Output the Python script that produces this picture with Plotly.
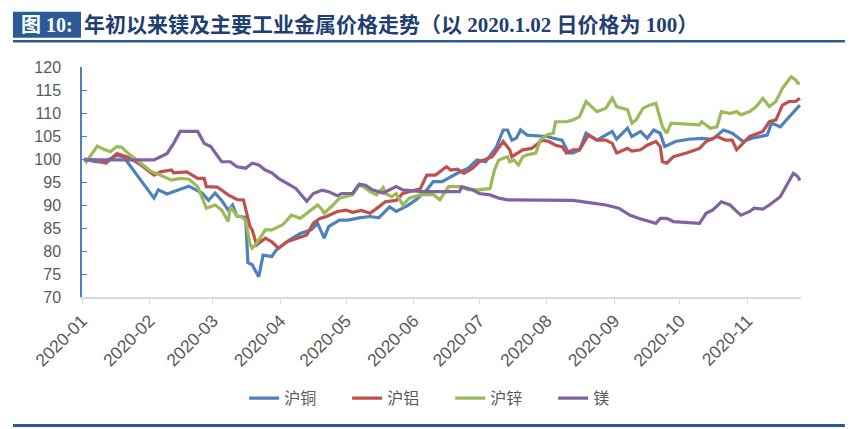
import plotly.graph_objects as go

# 沪铜
cu_dates = ["2020-01-02", "2020-01-07", "2020-01-11", "2020-01-17", "2020-01-20", "2020-02-03", "2020-02-05",
            "2020-02-09", "2020-02-15", "2020-02-19", "2020-02-25", "2020-02-28", "2020-03-02", "2020-03-05",
            "2020-03-08", "2020-03-10", "2020-03-12", "2020-03-15", "2020-03-16", "2020-03-17", "2020-03-19",
            "2020-03-22", "2020-03-24", "2020-03-28", "2020-03-30", "2020-04-05", "2020-04-10", "2020-04-15",
            "2020-04-18", "2020-04-21", "2020-04-23", "2020-04-28", "2020-05-02", "2020-05-07", "2020-05-12",
            "2020-05-16", "2020-05-21", "2020-05-24", "2020-05-29", "2020-06-02", "2020-06-07", "2020-06-10",
            "2020-06-14", "2020-06-21", "2020-06-26", "2020-06-30", "2020-07-04", "2020-07-09", "2020-07-12",
            "2020-07-14", "2020-07-16", "2020-07-18", "2020-07-20", "2020-07-23", "2020-07-29", "2020-08-01",
            "2020-08-04", "2020-08-08", "2020-08-11", "2020-08-13", "2020-08-16", "2020-08-19", "2020-08-24",
            "2020-08-28", "2020-08-31", "2020-09-02", "2020-09-07", "2020-09-09", "2020-09-13", "2020-09-16",
            "2020-09-19", "2020-09-22", "2020-09-24", "2020-09-29", "2020-10-05", "2020-10-11", "2020-10-16",
            "2020-10-21", "2020-10-25", "2020-10-30", "2020-11-03", "2020-11-10", "2020-11-12", "2020-11-16",
            "2020-11-20", "2020-11-25"]
cu_values = [100, 99.4, 99.3, 100.8, 100.5, 91.5, 93.3,
             92.4, 93.4, 94.1, 92.6, 91.0, 92.6, 91.0,
             88.9, 90.0, 87.6, 87.5, 87.3, 77.5, 77.0,
             74.4, 79.1, 78.8, 80.2, 82.4, 83.8, 84.6,
             86.0, 82.8, 85.3, 86.7, 86.7, 87.2, 87.5,
             87.2, 89.6, 88.6, 89.8, 91.1, 93.3, 95.1,
             95.1, 96.9, 98.0, 99.8, 99.4, 102.7, 106.3,
             106.3, 104.1, 104.5, 106.3, 105.2, 105.0, 104.9,
             104.5, 104.1, 101.3, 101.3, 102.0, 105.6, 104.1,
             105.2, 106.0, 104.3, 106.7, 104.9, 106.0, 104.5,
             106.3, 105.6, 102.7, 103.8, 104.3, 104.5, 104.3,
             106.3, 105.6, 103.8, 104.5, 105.2, 107.8, 107.0,
             109.2, 111.7]

# 沪铝
al_dates = ["2020-01-02", "2020-01-07", "2020-01-12", "2020-01-15", "2020-01-17", "2020-01-22", "2020-01-28",
            "2020-02-03", "2020-02-06", "2020-02-11", "2020-02-12", "2020-02-18", "2020-02-23", "2020-02-26",
            "2020-02-27", "2020-03-03", "2020-03-08", "2020-03-12", "2020-03-15", "2020-03-18", "2020-03-19",
            "2020-03-21", "2020-03-25", "2020-03-28", "2020-03-31", "2020-04-04", "2020-04-09", "2020-04-13",
            "2020-04-16", "2020-04-19", "2020-04-22", "2020-04-27", "2020-05-01", "2020-05-04", "2020-05-08",
            "2020-05-12", "2020-05-16", "2020-05-19", "2020-05-24", "2020-05-27", "2020-05-30", "2020-06-04",
            "2020-06-07", "2020-06-11", "2020-06-16", "2020-06-18", "2020-06-21", "2020-06-24", "2020-06-28",
            "2020-07-01", "2020-07-07", "2020-07-12", "2020-07-15", "2020-07-16", "2020-07-21", "2020-07-25",
            "2020-07-30", "2020-08-02", "2020-08-05", "2020-08-08", "2020-08-10", "2020-08-13", "2020-08-16",
            "2020-08-20", "2020-08-24", "2020-08-28", "2020-08-31", "2020-09-02", "2020-09-07", "2020-09-09",
            "2020-09-13", "2020-09-16", "2020-09-20", "2020-09-22", "2020-09-23", "2020-09-25", "2020-09-28",
            "2020-10-04", "2020-10-10", "2020-10-13", "2020-10-18", "2020-10-22", "2020-10-25", "2020-10-27",
            "2020-11-02", "2020-11-08", "2020-11-11", "2020-11-14", "2020-11-17", "2020-11-20", "2020-11-23",
            "2020-11-25"]
al_values = [100, 99.8, 99.1, 100.5, 101.2, 100.4, 98.7,
             96.5, 97.2, 97.6, 97.0, 97.2, 95.8, 95.8,
             94.0, 93.9, 92.2, 91.2, 91.1, 85.3, 84.6,
             81.3, 82.8, 82.0, 80.6, 82.0, 82.8, 83.5,
             86.0, 87.1, 87.5, 88.6, 88.9, 88.4, 88.8,
             88.2, 89.6, 90.7, 91.0, 92.5, 92.9, 93.5,
             96.5, 96.5, 98.3, 97.6, 97.8, 96.9, 98.0,
             99.4, 100.5, 103.8, 102.0, 100.5, 102.0, 102.3,
             104.1, 103.8, 103.0, 102.7, 101.3, 102.0, 102.0,
             105.2, 104.1, 104.1, 103.4, 101.3, 102.3, 101.7,
             102.0, 103.0, 103.8, 102.7, 99.4, 99.1, 100.5,
             101.3, 102.3, 103.8, 104.9, 104.1, 104.1, 102.0,
             104.9, 106.0, 108.1, 108.5, 111.7, 112.5, 112.5,
             113.2]

# 沪锌
zn_dates = ["2020-01-02", "2020-01-03", "2020-01-08", "2020-01-11", "2020-01-14", "2020-01-17", "2020-01-19",
            "2020-01-23", "2020-01-28", "2020-02-02", "2020-02-05", "2020-02-11", "2020-02-15", "2020-02-19",
            "2020-02-23", "2020-02-25", "2020-02-27", "2020-03-02", "2020-03-05", "2020-03-08", "2020-03-09",
            "2020-03-12", "2020-03-14", "2020-03-16", "2020-03-18", "2020-03-19", "2020-03-21", "2020-03-25",
            "2020-03-28", "2020-04-02", "2020-04-06", "2020-04-10", "2020-04-15", "2020-04-18", "2020-04-20",
            "2020-04-21", "2020-04-25", "2020-04-28", "2020-05-04", "2020-05-07", "2020-05-09", "2020-05-12",
            "2020-05-15", "2020-05-18", "2020-05-19", "2020-05-22", "2020-05-24", "2020-05-27", "2020-05-30",
            "2020-06-04", "2020-06-10", "2020-06-13", "2020-06-17", "2020-06-22", "2020-06-26", "2020-07-01",
            "2020-07-06", "2020-07-08", "2020-07-10", "2020-07-14", "2020-07-15", "2020-07-17", "2020-07-19",
            "2020-07-21", "2020-07-23", "2020-07-27", "2020-07-29", "2020-08-01", "2020-08-04", "2020-08-05",
            "2020-08-10", "2020-08-13", "2020-08-16", "2020-08-19", "2020-08-24", "2020-08-28", "2020-08-31",
            "2020-09-02", "2020-09-07", "2020-09-09", "2020-09-11", "2020-09-14", "2020-09-17", "2020-09-20",
            "2020-09-23", "2020-09-25", "2020-09-27", "2020-10-04", "2020-10-10", "2020-10-11", "2020-10-15",
            "2020-10-18", "2020-10-20", "2020-10-24", "2020-10-27", "2020-10-29", "2020-11-02", "2020-11-05",
            "2020-11-08", "2020-11-11", "2020-11-14", "2020-11-17", "2020-11-21", "2020-11-23", "2020-11-24",
            "2020-11-25"]
zn_values = [100, 99.4, 102.8, 102.1, 101.6, 102.7, 102.6,
             100.9, 99.1, 97.2, 96.7, 95.4, 95.8, 95.6,
             94.0, 91.8, 89.3, 90.0, 88.9, 86.4, 89.6,
             87.6, 87.5, 86.7, 81.5, 80.6, 81.7, 84.6,
             84.6, 85.7, 87.8, 87.1, 88.9, 90.0, 89.0,
             88.2, 90.0, 91.5, 92.2, 94.3, 94.0, 92.9,
             92.2, 93.8, 92.5, 91.8, 92.5, 90.0, 91.5,
             92.2, 92.3, 91.1, 94.0, 94.0, 93.3, 93.3,
             93.6, 97.6, 99.8, 100.5, 99.4, 99.8, 98.7,
             100.5, 100.9, 101.3, 104.1, 105.2, 105.6, 108.1,
             108.1, 108.5, 109.2, 112.5, 110.3, 111.0, 113.2,
             111.4, 110.7, 107.8, 108.5, 111.0, 111.7, 112.1,
             107.0, 105.6, 107.8, 107.6, 107.4, 108.1, 106.7,
             107.0, 110.3, 109.9, 110.3, 109.6, 110.3, 111.4,
             113.2, 111.4, 112.5, 115.4, 117.9, 117.2, 116.5,
             116.5]

# 镁
mg_dates = ["2020-01-02", "2020-02-03", "2020-02-06", "2020-02-09", "2020-02-12", "2020-02-15", "2020-02-23",
            "2020-02-26", "2020-02-29", "2020-03-05", "2020-03-09", "2020-03-12", "2020-03-16", "2020-03-19",
            "2020-03-22", "2020-03-25", "2020-03-28", "2020-03-31", "2020-04-04", "2020-04-08", "2020-04-13",
            "2020-04-16", "2020-04-20", "2020-04-23", "2020-04-27", "2020-04-29", "2020-05-04", "2020-05-07",
            "2020-05-10", "2020-05-13", "2020-05-18", "2020-05-24", "2020-05-27", "2020-06-05", "2020-06-22",
            "2020-06-23", "2020-06-28", "2020-07-01", "2020-07-06", "2020-07-10", "2020-07-14", "2020-08-05",
            "2020-08-13", "2020-08-22", "2020-08-28", "2020-09-03", "2020-09-08", "2020-09-12", "2020-09-17",
            "2020-09-20", "2020-09-22", "2020-09-25", "2020-09-28", "2020-10-10", "2020-10-13", "2020-10-16",
            "2020-10-20", "2020-10-24", "2020-10-27", "2020-10-29", "2020-11-02", "2020-11-04", "2020-11-08",
            "2020-11-11", "2020-11-16", "2020-11-19", "2020-11-22", "2020-11-24", "2020-11-25"]
mg_values = [99.8, 99.8, 100.5, 101.2, 103.4, 106.0, 106.0,
             103.4, 102.7, 99.4, 99.4, 98.3, 98.0, 99.1,
             98.7, 97.6, 97.0, 95.8, 94.7, 93.6, 90.8,
             92.5, 93.2, 92.9, 92.0, 92.5, 92.5, 94.5,
             94.3, 93.3, 92.6, 94.0, 93.3, 92.9, 92.9,
             94.0, 93.3, 92.5, 92.2, 91.5, 91.1, 91.1,
             91.0, 90.4, 90.0, 89.3, 87.8, 87.1, 86.4,
             86.0, 87.1, 87.1, 86.4, 86.0, 88.2, 88.9,
             90.7, 90.0, 88.6, 87.8, 88.6, 89.3, 89.1,
             90.0, 91.8, 94.3, 96.9, 96.2, 95.3]

series = [
    ("沪铜", cu_dates, cu_values, "#4F81BD"),
    ("沪铝", al_dates, al_values, "#C0504D"),
    ("沪锌", zn_dates, zn_values, "#9BBB59"),
    ("镁", mg_dates, mg_values, "#8064A2"),
]

fig = go.Figure()
for name, d, v, c in series:
    fig.add_trace(go.Scatter(x=d, y=v, mode="lines", name=name,
                             line=dict(color=c, width=3.2)))

navy = "#2A5B96"

# page body has an 8px margin, so margins are shifted to land the plot area where the reference has it
fig.update_layout(
    width=855, height=429,
    margin=dict(l=74, r=62, t=59, b=140),
    paper_bgcolor="white", plot_bgcolor="white",
    font=dict(family="Liberation Sans, Noto Sans CJK SC", color="#595959"),
    showlegend=True,
    legend=dict(orientation="h", x=0.512, xanchor="center", y=-0.44, yanchor="middle",
                font=dict(size=16, family="Noto Sans CJK SC", color="#595959"),
                itemwidth=30, entrywidth=58, tracegroupgap=0),
    xaxis=dict(type="date", range=["2020-01-01", "2020-11-25 12:00"],
               dtick="M1", tick0="2020-01-01", tickformat="%Y-%m", tickangle=-45,
               showline=True, linecolor="#D9D9D9", linewidth=1.5,
               ticks="outside", tickcolor="#D9D9D9", ticklen=5,
               showgrid=False, zeroline=False,
               tickfont=dict(size=17.5, color="#595959")),
    yaxis=dict(range=[70, 120], dtick=5, tick0=70,
               showline=True, linecolor="#4F81BD", linewidth=1.5,
               ticks="inside", tickcolor="#4F81BD", ticklen=5,
               showgrid=False, zeroline=False,
               tickfont=dict(size=16, color="#595959"), ticklabelstandoff=16),
    shapes=[
        dict(type="rect", xref="paper", yref="paper", x0=-0.096, x1=-0.0014, y0=1.127, y1=1.240,
             fillcolor=navy, line=dict(width=0)),
        dict(type="line", xref="paper", yref="paper", x0=-0.096, x1=1.061, y0=1.112, y1=1.112,
             line=dict(color=navy, width=2.5)),
        dict(type="line", xref="paper", yref="paper", x0=-0.096, x1=1.061, y0=-0.559, y1=-0.559,
             line=dict(color=navy, width=3)),
    ],
    annotations=[
        dict(text="<b>图 10:</b>", xref="paper", yref="paper", x=-0.049, y=1.183,
             xanchor="center", yanchor="middle", showarrow=False,
             font=dict(size=20, color="white", family="Liberation Serif, Noto Sans CJK SC")),
        dict(text="<b>年初以来镁及主要工业金属价格走势（以 2020.1.02 日价格为 100）</b>",
             xref="paper", yref="paper", x=0.0, y=1.183, xanchor="left", yanchor="middle",
             showarrow=False,
             font=dict(size=21, color="#1F3F73", family="Liberation Serif, Noto Sans CJK SC")),
    ],
)

fig.write_html("out.html")
